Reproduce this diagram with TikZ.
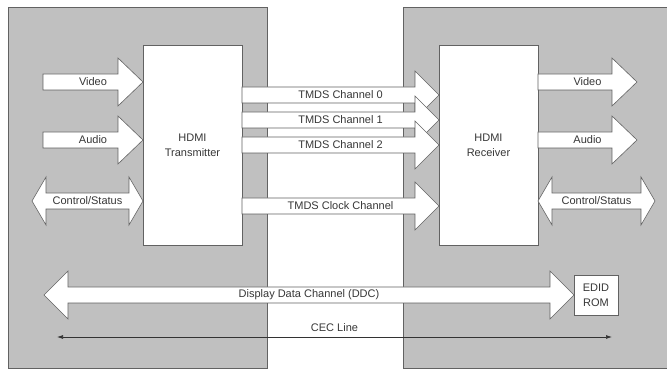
\documentclass[tikz,border=0pt]{standalone}
\usepackage{fontspec}
\setmainfont{Liberation Sans}
\usetikzlibrary{calc,arrows.meta}

\definecolor{panelgray}{RGB}{192,192,192}
\definecolor{edgegray}{RGB}{98,98,98}
\definecolor{labelgray}{RGB}{55,55,55}

\tikzset{
	hdmipanel/.style={
		draw=edgegray,
		fill=panelgray,
		line width=0.8pt
	},
	hdmichip/.style={
		draw=edgegray,
		fill=white,
		line width=0.8pt,
		align=center,
		anchor=north west,
		outer sep=0pt,
		text=labelgray,
		font=\fontsize{11}{15}\selectfont
	},
	blockarrow/.style={
		draw=edgegray,
		fill=white,
		line width=0.6pt,
		line join=miter
	},
	arrowlabel/.style={
		inner sep=0pt,
		text=labelgray,
		font=\fontsize{11}{13}\selectfont
	},
	cecline/.style={
		draw=black!80,
		line width=0.7pt,
		{Latex[length=6pt,width=4pt]}-{Latex[length=6pt,width=4pt]}
	}
}

% block arrow: [head length]{tail}{tip}{label}
\newcommand{\fatarrow}[4][25]{%
	\draw[blockarrow] let \p1=#2, \p2=#3 in
		(\x1,\y1+8) -- (\x2-#1,\y1+8) -- (\x2-#1,\y1+24) -- (\x2,\y1)
		-- (\x2-#1,\y1-24) -- (\x2-#1,\y1-8) -- (\x1,\y1-8) -- cycle
		(\x1/2+\x2/2,\y1) node[arrowlabel] {#4};
}
% two-headed block arrow
\newcommand{\dblarrow}[4][14]{%
	\draw[blockarrow] let \p1=#2, \p2=#3 in
		(\x1,\y1) -- (\x1+#1,\y1+24) -- (\x1+#1,\y1+8) -- (\x2-#1,\y1+8)
		-- (\x2-#1,\y1+24) -- (\x2,\y1) -- (\x2-#1,\y1-24) -- (\x2-#1,\y1-8)
		-- (\x1+#1,\y1-8) -- (\x1+#1,\y1-24) -- cycle
		(\x1/2+\x2/2,\y1) node[arrowlabel] {#4};
}

\begin{document}
\begin{tikzpicture}[x=1pt,y=-1pt]

	\useasboundingbox (0,0) rectangle (667,371);

	% Source and sink panels
	\draw[hdmipanel] (8,7) rectangle (267,368);
	\draw[hdmipanel] (403,7) rectangle (672,368);

	% Chips
	\node[hdmichip, minimum width=99pt, minimum height=200pt] (tx) at (143,45) {HDMI\\Transmitter};
	\node[hdmichip, minimum width=99pt, minimum height=200pt] (rx) at (439,45) {HDMI\\Receiver};
	\node[hdmichip, minimum width=44pt, minimum height=40pt] (edid) at (574,275) {EDID\\ROM};

	% Source side inputs
	\coordinate (vidin) at (43,82);
	\coordinate (audin) at (43,140);
	\coordinate (ctlin) at (32,201);
	\fatarrow{(vidin)}{(tx.west |- vidin)}{Video}
	\fatarrow{(audin)}{(tx.west |- audin)}{Audio}
	\dblarrow{(ctlin)}{(tx.west |- ctlin)}{Control/Status}

	% TMDS link
	\foreach \chy/\chn in {95/0,120/1,145/2}{
		\coordinate (ch\chn) at (0,\chy);
		\fatarrow[24]{(tx.east |- ch\chn)}{(rx.west |- ch\chn)}{TMDS Channel \chn}
	}
	\coordinate (clk) at (0,206);
	\fatarrow[24]{(tx.east |- clk)}{(rx.west |- clk)}{TMDS Clock Channel}

	% Sink side outputs
	\coordinate (vidout) at (637,82);
	\coordinate (audout) at (637,140);
	\coordinate (ctlout) at (655,201);
	\fatarrow{(rx.east |- vidout)}{(vidout)}{Video}
	\fatarrow{(rx.east |- audout)}{(audout)}{Audio}
	\dblarrow[14]{(rx.east |- ctlout)}{(ctlout)}{Control/Status}

	% DDC and CEC
	\coordinate (ddc) at (44,295);
	\dblarrow[24]{(ddc)}{(edid.west |- ddc)}{Display Data Channel (DDC)}

	\coordinate (cecL) at (57,337);
	\coordinate (cecR) at (612,337);
	\draw[cecline] (cecL) -- node[arrowlabel, above=5pt] {CEC Line} (cecR);

\end{tikzpicture}
\end{document}
